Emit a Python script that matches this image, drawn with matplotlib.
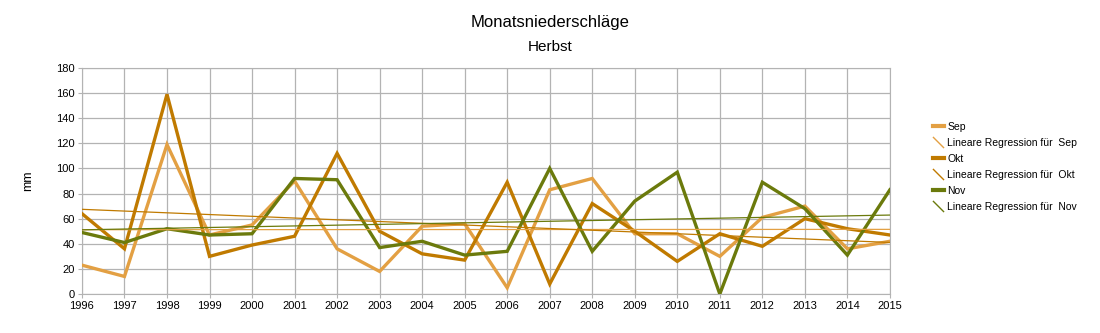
import numpy as np
import matplotlib.pyplot as plt
from matplotlib.lines import Line2D

plt.rcParams['font.family'] = ['Liberation Sans', 'DejaVu Sans']

# Niederschlag je Herbstmonat in mm
years = list(range(1996, 2016))
sep = [23, 14, 119, 47, 55, 90, 36, 18, 54, 56, 5, 83, 92, 48, 48, 30, 61, 70, 36, 42]
okt = [64, 36, 159, 30, 39, 46, 112, 50, 32, 27, 89, 8, 72, 50, 26, 48, 38, 60, 52, 47]
nov = [49, 41, 52, 47, 48, 92, 91, 37, 42, 31, 34, 100, 34, 74, 97, 0, 89, 68, 31, 83]

series = [("Sep", sep, "#e3a043"), ("Okt", okt, "#c07a00"), ("Nov", nov, "#6b7a0c")]

fig = plt.figure(figsize=(11, 3.33), dpi=100)
ax = fig.add_axes([0.0745, 0.117, 0.7345, 0.679])

x = np.array(years)
handles = []
for name, vals, col in series:
    ax.plot(x, vals, color=col, lw=2.4, solid_joinstyle='miter', zorder=3)
    handles.append(Line2D([], [], color=col, lw=3))
    # lineare Regression
    k, d = np.polyfit(x, vals, 1)
    ax.plot(x, k * x + d, color=col, lw=0.9, zorder=4)
    handles.append(Line2D([], [], linestyle='none', marker=[(-1, 1), (1, -1)],
                          markersize=8, markeredgewidth=1, markeredgecolor=col))

labels = ["Sep", "Lineare Regression für  Sep", "Okt", "Lineare Regression für  Okt",
          "Nov", "Lineare Regression für  Nov"]

ax.set_xlim(1996, 2015)
ax.set_ylim(0, 180)
ax.set_xticks(years)
ax.set_yticks(range(0, 181, 20))
ax.tick_params(labelsize=8, length=3, color='#b3b3b3', pad=2)
ax.grid(True, color='#b3b3b3', lw=0.9)
ax.set_axisbelow(True)
for s in ax.spines.values():
    s.set_color('#b3b3b3')
ax.set_ylabel("mm", fontsize=9, labelpad=16)

fig.text(0.5, 0.932, "Monatsniederschläge", ha='center', va='center', fontsize=12)
fig.text(0.5, 0.86, "Herbst", ha='center', va='center', fontsize=11)

fig.legend(handles, labels, loc='upper left', bbox_to_anchor=(0.843, 0.65),
           frameon=False, fontsize=7.5, handlelength=1.1, handletextpad=0.3,
           labelspacing=0.58, borderpad=0)

fig.savefig('out.png', dpi=100)
